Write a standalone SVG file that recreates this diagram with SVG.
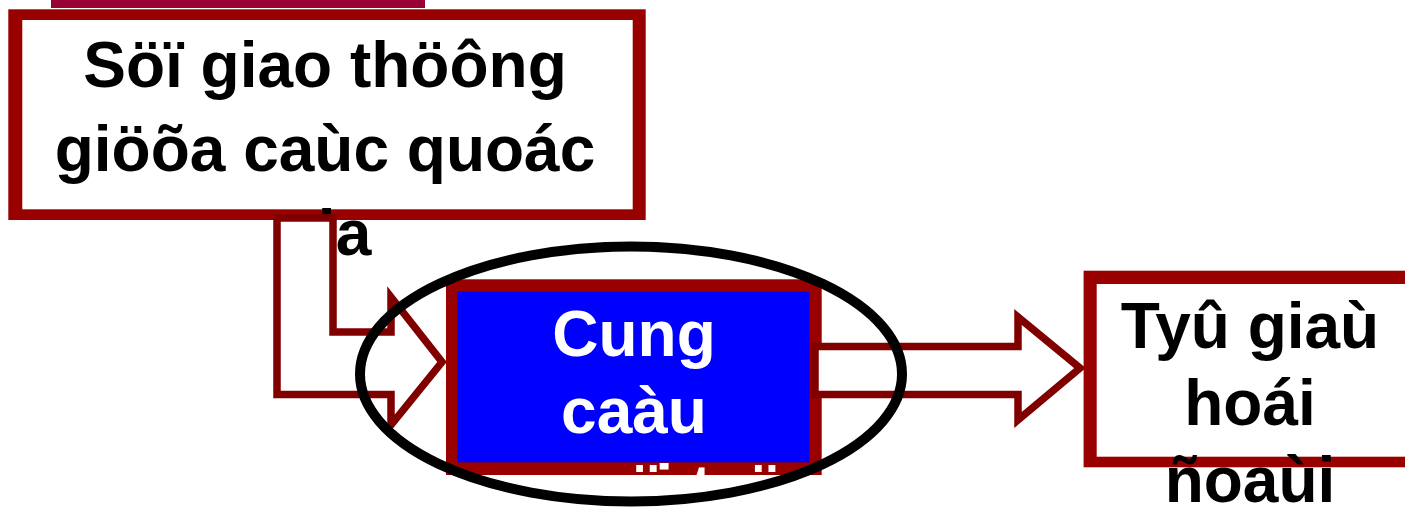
<svg xmlns="http://www.w3.org/2000/svg" width="1405" height="508" viewBox="0 0 1405 508">
  <style>
    .frame { fill: #990000; }
    .paper { fill: #ffffff; }
    .core { fill: #0000ff; }
    .label { font-family: "Liberation Sans", Arial, sans-serif; font-weight: bold; font-size: 64px; text-anchor: middle; }
    .dark { fill: #000000; }
    .light { fill: #ffffff; }
    .flow { fill: #ffffff; stroke: #800000; stroke-width: 7.5; stroke-linejoin: miter; }
    .ring { fill: none; stroke: #000000; stroke-width: 10; }
  </style>

  <!-- title strip along the top edge -->
  <rect x="51" y="0" width="374" height="8" fill="#990033"/>

  <!-- international trade -->
  <g id="node-trade">
    <rect class="frame" x="8.3" y="9.3" width="637.4" height="210.7"/>
    <rect class="paper" x="22.3" y="20" width="610.4" height="189.3"/>
    <text class="label dark" x="325" y="87">Söï giao thöông</text>
    <text class="label dark" x="325" y="171">giöõa caùc quoác</text>
    <text class="label dark" x="325" y="255">gia</text>
  </g>

  <!-- supply and demand -->
  <g id="node-supply-demand">
    <rect class="frame" x="446" y="279.3" width="375.7" height="195.7"/>
    <rect class="core" x="457.3" y="291.7" width="352" height="170.6"/>
    <text class="label light" x="634" y="356">Cung</text>
    <text class="label light" x="634" y="433">caàu</text>
    <text class="label light" x="634" y="510">ngoaïi teä</text>
  </g>

  <!-- exchange rate -->
  <g id="node-exchange-rate">
    <rect class="frame" x="1083.6" y="270.7" width="340" height="196.6"/>
    <rect class="paper" x="1096.7" y="284" width="330" height="172.7"/>
    <text class="label dark" x="1250" y="348">Tyû giaù</text>
    <text class="label dark" x="1250" y="425">hoái</text>
    <text class="label dark" x="1250" y="502">ñoaùi</text>
  </g>

  <!-- block arrows -->
  <g id="connectors">
    <polygon class="flow" points="277,218 333,218 333,332 391,332 391,297 442,362 391,425 391,394.5 277,394.5"/>
    <polygon class="flow" points="815,346.5 1018,346.5 1018,317 1080,368 1018,420 1018,394.5 815,394.5"/>
  </g>

  <!-- highlight ring -->
  <g id="highlight">
    <ellipse class="ring" cx="631" cy="374" rx="271" ry="127.5"/>
  </g>
</svg>
